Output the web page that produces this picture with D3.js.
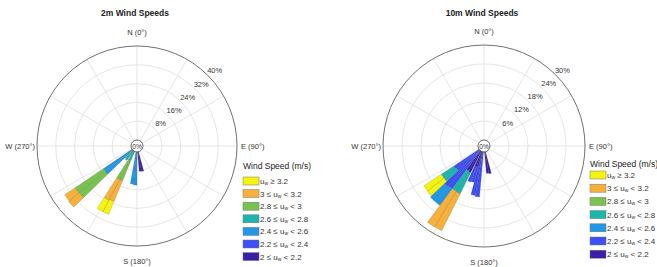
<!DOCTYPE html>
<html>
<head>
<meta charset="utf-8">
<script src="https://cdn.jsdelivr.net/npm/d3@7/dist/d3.min.js"></script>
<style>
  body { margin: 0; background: #fff; }
  text { font-family: "Liberation Sans", Arial, sans-serif; }
</style>
</head>
<body>
<svg id="chart" width="657" height="267"></svg>
<script>
// speed classes, low -> high
const speedKeys = ['c0', 'c1', 'c2', 'c3', 'c4', 'c5', 'c6'];
const speedColors = ['#3a1fa6', '#3d4ff6', '#2297e8', '#1db6ac', '#78c34f', '#f8b03c', '#f4f40f'];
const speedLabels = [
  ['2 \u2264 ', ' < 2.2'],
  ['2.2 \u2264 ', ' < 2.4'],
  ['2.4 \u2264 ', ' < 2.6'],
  ['2.6 \u2264 ', ' < 2.8'],
  ['2.8 \u2264 ', ' < 3'],
  ['3 \u2264 ', ' < 3.2'],
  ['', ' \u2265 3.2']
];
const binWidth = 5; // degrees

// 2m wind speeds (% of time per direction bin)
const dirs2m = [167.5, 172.5, 182.5, 187.5, 205, 210, 217.5, 222.5, 228.5, 233.5];
const m2_c0 = [8.5, 8.3, 0, 0, 0, 0, 0, 0, 0, 0];
const m2_c1 = [0, 0, 0, 0, 0, 0, 0, 0, 0, 0];
const m2_c2 = [0, 0, 14.1, 13.8, 0, 0, 0, 0, 14.8, 14.6];
const m2_c3 = [0, 0, 0, 0, 4.0, 4.2, 5.0, 4.6, 0, 0];
const m2_c4 = [0, 0, 0, 0, 9.6, 9.2, 0, 0, 14.3, 14.6];
const m2_c5 = [0, 0, 0, 0, 9.4, 10.0, 0, 0, 5.8, 5.4];
const m2_c6 = [0, 0, 0, 0, 6.0, 5.6, 0, 0, 0, 0];
const ticks2m = [8, 16, 24, 32, 40];

// 10m wind speeds
const dirs10m = [167.5, 172.5, 187.5, 192.5, 197.5, 202.5, 209, 214, 219, 224, 229, 234];
const m10_c0 = [7.0, 6.8, 0, 0, 5.0, 5.2, 7.5, 7.3, 0, 0, 0, 0];
const m10_c1 = [0, 0, 14.3, 14.0, 5.0, 5.0, 0, 0, 15.0, 15.3, 9.3, 9.5];
const m10_c2 = [0, 0, 0, 0, 0, 0, 0, 0, 6.5, 6.2, 0, 0];
const m10_c3 = [0, 0, 0, 0, 0, 0, 7.5, 7.6, 0, 0, 5.0, 4.8];
const m10_c4 = [0, 0, 0, 0, 0, 0, 0, 0, 0, 0, 0, 0];
const m10_c5 = [0, 0, 0, 0, 0, 0, 13.0, 13.2, 0, 0, 0, 0];
const m10_c6 = [0, 0, 0, 0, 0, 0, 0, 0, 0, 0, 6.8, 6.6];
const ticks10m = [6, 12, 18, 24, 30];

const svg = d3.select('#chart');
const rad = (deg) => deg * Math.PI / 180;

const drawRose = (cfg) => {
  const g = svg.append('g').attr('transform', `translate(${cfg.cx},${cfg.cy})`);
  const hole = 6;
  const r = d3.scaleLinear().domain([0, d3.max(cfg.ticks)]).range([hole, cfg.R]);

  // grid rings
  g.selectAll('circle.ring')
      .data(cfg.ticks.slice(0, -1))
      .enter()
      .append('circle')
      .attr('r', (d) => r(d))
      .attr('fill', 'none')
      .attr('stroke', '#dedede')
      .attr('stroke-width', 0.8);

  // spokes
  g.selectAll('line.spoke')
      .data(d3.range(0, 360, 30))
      .enter()
      .append('line')
      .attr('x1', (d) => hole * Math.sin(rad(d)))
      .attr('y1', (d) => -hole * Math.cos(rad(d)))
      .attr('x2', (d) => cfg.R * Math.sin(rad(d)))
      .attr('y2', (d) => -cfg.R * Math.cos(rad(d)))
      .attr('stroke', '#dedede')
      .attr('stroke-width', 0.8);

  // stacked bars
  const rows = cfg.dirs.map((dir, i) => {
    const row = { dir };
    speedKeys.forEach((k, j) => { row[k] = cfg.series[j][i]; });
    return row;
  });
  const stacked = d3.stack().keys(speedKeys)(rows);
  const arc = d3.arc();

  stacked.forEach((layer, j) => {
    g.selectAll(null)
        .data(layer.filter((d) => d[1] > d[0]))
        .enter()
        .append('path')
        .attr('d', (d) => arc({
          innerRadius: r(d[0]),
          outerRadius: r(d[1]),
          startAngle: rad(d.data.dir - binWidth / 2),
          endAngle: rad(d.data.dir + binWidth / 2)
        }))
        .attr('fill', speedColors[j])
        .attr('stroke', 'rgba(60,60,60,0.35)')
        .attr('stroke-width', 0.5);
  });

  // outer circle + hole
  g.append('circle')
      .attr('r', cfg.R)
      .attr('fill', 'none')
      .attr('stroke', '#707070')
      .attr('stroke-width', 1);
  g.append('circle')
      .attr('r', hole)
      .attr('fill', 'none')
      .attr('stroke', '#444')
      .attr('stroke-width', 0.8);
  g.append('text')
      .text('0%')
      .attr('text-anchor', 'middle')
      .attr('dominant-baseline', 'central')
      .style('font-size', '6.5px')
      .style('fill', '#333');

  // radial tick labels
  const labAng = rad(46);
  g.selectAll('text.tick')
      .data(cfg.ticks)
      .enter()
      .append('text')
      .text((d) => d + '%')
      .attr('x', (d) => (r(d) + 8) * Math.sin(labAng))
      .attr('y', (d) => -(r(d) + 8) * Math.cos(labAng))
      .attr('text-anchor', 'middle')
      .attr('dominant-baseline', 'central')
      .style('font-size', '7.5px')
      .style('fill', '#333');

  // compass labels
  const compass = [
    { t: 'N (0\u00b0)', x: 0, y: -cfg.R - 14, a: 'middle' },
    { t: 'S (180\u00b0)', x: 0, y: cfg.R + 15, a: 'middle' },
    { t: 'E (90\u00b0)', x: cfg.R + 4, y: 0, a: 'start' },
    { t: 'W (270\u00b0)', x: -cfg.R - 2, y: 0, a: 'end' }
  ];
  g.selectAll('text.compass')
      .data(compass)
      .enter()
      .append('text')
      .text((d) => d.t)
      .attr('x', (d) => d.x)
      .attr('y', (d) => d.y)
      .attr('text-anchor', (d) => d.a)
      .attr('dominant-baseline', 'central')
      .style('font-size', '7.5px')
      .style('fill', '#333');

  // title
  svg.append('text')
      .text(cfg.title)
      .attr('x', cfg.cx - 2)
      .attr('y', 13)
      .attr('text-anchor', 'middle')
      .attr('dominant-baseline', 'central')
      .style('font-size', '8.5px')
      .style('font-weight', '700')
      .style('fill', '#222');

  // legend
  const lg = svg.append('g').attr('transform', `translate(${cfg.lx},${cfg.ly})`);
  lg.append('text')
      .text('Wind Speed (m/s)')
      .attr('x', 0)
      .attr('y', 0)
      .attr('dominant-baseline', 'central')
      .style('font-size', '8.5px')
      .style('fill', '#222');

  const order = d3.range(speedKeys.length).reverse();
  const items = lg.selectAll('g.item')
      .data(order)
      .enter()
      .append('g')
      .attr('transform', (d, i) => `translate(0,${cfg.lfirst + i * cfg.lstep})`);
  items.append('rect')
      .attr('x', 0)
      .attr('y', -4)
      .attr('width', 16)
      .attr('height', 8)
      .attr('fill', (d) => speedColors[d])
      .attr('stroke', '#777')
      .attr('stroke-width', 0.5);
  const txt = items.append('text')
      .attr('x', 17)
      .attr('y', 0)
      .attr('dominant-baseline', 'central')
      .style('font-size', '8px')
      .style('fill', '#333');
  txt.append('tspan').text((d) => speedLabels[d][0]);
  txt.append('tspan').text('u');
  txt.append('tspan').text('w').attr('dy', 2).style('font-size', '5px');
  txt.append('tspan').text((d) => speedLabels[d][1]).attr('dy', -2);
};

drawRose({
  title: '2m Wind Speeds', cx: 137, cy: 146, R: 100,
  ticks: ticks2m, dirs: dirs2m,
  series: [m2_c0, m2_c1, m2_c2, m2_c3, m2_c4, m2_c5, m2_c6],
  lx: 243, ly: 166, lfirst: 15, lstep: 12.6
});

drawRose({
  title: '10m Wind Speeds', cx: 484, cy: 146, R: 101,
  ticks: ticks10m, dirs: dirs10m,
  series: [m10_c0, m10_c1, m10_c2, m10_c3, m10_c4, m10_c5, m10_c6],
  lx: 590, ly: 164, lfirst: 11, lstep: 13.2
});
</script>
</body>
</html>
